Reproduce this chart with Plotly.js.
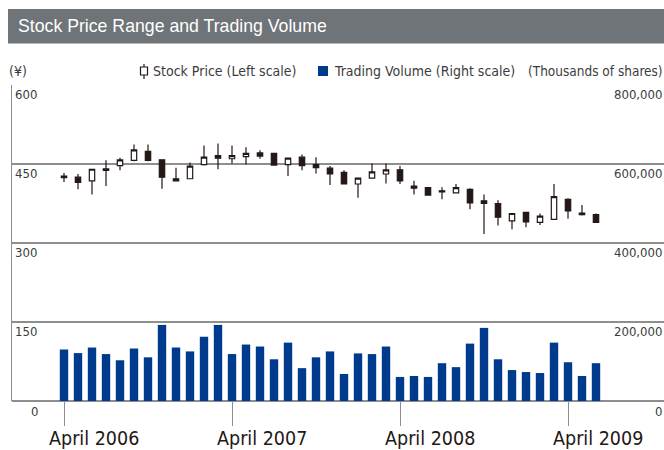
<!DOCTYPE html>
<html>
<head>
<meta charset="utf-8">
<script src="https://cdn.plot.ly/plotly-3.0.1.min.js"></script>
<style>
html,body{margin:0;padding:0;background:#fff;}
#chart{width:664px;height:450px;}
</style>
</head>
<body>
<div id="chart"></div>
<script>
// ---- data ----
const months = ["2006-04","2006-05","2006-06","2006-07","2006-08","2006-09","2006-10","2006-11","2006-12",
  "2007-01","2007-02","2007-03","2007-04","2007-05","2007-06","2007-07","2007-08","2007-09","2007-10","2007-11","2007-12",
  "2008-01","2008-02","2008-03","2008-04","2008-05","2008-06","2008-07","2008-08","2008-09","2008-10","2008-11","2008-12",
  "2009-01","2009-02","2009-03","2009-04","2009-05","2009-06"];
const priceOpen  = [427,425,418,438,447,457,474,458,422,422,449,466,460,464,471,470,449,463,449,442,434,412,423,431,439,408,405,399,395,402,380,375,342,358,339,345,383,357,354];
const priceHigh  = [433,431,440,457,462,487,487,459,443,453,485,489,485,482,476,471,462,468,463,446,438,423,451,451,446,418,405,406,412,404,392,381,356,359,356,412,385,372,356];
const priceLow   = [416,402,392,408,438,455,455,403,418,422,447,440,451,449,460,447,427,438,432,410,412,386,422,413,412,392,391,383,395,364,317,333,326,330,334,344,346,352,339];
const priceClose = [424,415,440,441,458,477,457,425,418,446,463,461,466,470,465,448,461,447,443,431,412,423,435,439,418,404,391,397,405,376,375,349,356,340,351,388,361,354,339];
const volume = [130400,121300,135400,118800,103100,132900,110600,192600,135400,125500,
  162700,192600,118800,142900,137900,105600,147800,83200,110600,125500,
  68300,120500,118800,137900,60900,63400,60900,95700,85700,145300,
  185100,105600,78300,73300,70800,147800,98100,63400,95700];
const xTickVals = ["2006-04","2007-04","2008-04","2009-04"];
const xTickText = ["April 2006","April 2007","April 2008","April 2009"];
const priceTicks = [150,300,450,600];
const priceTickText = ["150","300","450","600"];
const volTicks = [200000,400000,600000,800000];
const volTickText = ["200,000","400,000","600,000","800,000"];

// ---- layout helpers (pixel -> paper) ----
const L = 12, R = 664, T = 85, B = 401;
const px = x => (x - L) / (R - L);
const py = y => (B - y) / (B - T);

const narrow = "'DejaVu Sans Condensed', 'Liberation Sans Narrow', sans-serif";
const gridCol = "#8e8e8e";
const textCol = "#3c3c3c";

const candle = {
  type: "candlestick",
  x: months, open: priceOpen, high: priceHigh, low: priceLow, close: priceClose,
  xaxis: "x", yaxis: "y",
  increasing: {line: {color: "#231815", width: 1.2}, fillcolor: "#ffffff"},
  decreasing: {line: {color: "#231815", width: 1.2}, fillcolor: "#231815"},
  whiskerwidth: 0,
  hoverinfo: "skip", showlegend: false
};
const bars = {
  type: "bar", x: months, y: volume, xaxis: "x", yaxis: "y2",
  marker: {color: "#003a8c"}, width: 0.6,
  hoverinfo: "skip", showlegend: false
};

const annotations = [];
priceTicks.forEach((v, i) => annotations.push({
  xref: "paper", yref: "y", x: px(13), y: v, xanchor: "left", yanchor: "top", yshift: 0,
  text: priceTickText[i], showarrow: false, font: {family: narrow, size: 13, color: textCol}
}));
annotations.push({xref: "paper", yref: "y", x: px(40), y: 0, xanchor: "right", yanchor: "top", yshift: -1,
  text: "0", showarrow: false, font: {family: narrow, size: 13, color: textCol}});
volTicks.forEach((v, i) => annotations.push({
  xref: "paper", yref: "y2", x: px(664), y: v, xanchor: "right", yanchor: "top", yshift: 0,
  text: volTickText[i], showarrow: false, font: {family: narrow, size: 13, color: textCol}
}));
annotations.push({xref: "paper", yref: "y2", x: px(664), y: 0, xanchor: "right", yanchor: "top", yshift: -1,
  text: "0", showarrow: false, font: {family: narrow, size: 13, color: textCol}});
// x tick labels (offset right of the tick, as in the original)
xTickVals.forEach((v, i) => annotations.push({
  xref: "x", yref: "paper", x: v, y: py(438.5), xanchor: "left", yanchor: "middle", xshift: -16,
  borderpad: 0,
  text: xTickText[i], showarrow: false, font: {family: narrow, size: 19.5, color: "#231815"}
}));
// title
annotations.push({xref: "paper", yref: "paper", x: px(16), y: py(26.5), xanchor: "left", yanchor: "middle",
  text: "Stock Price Range and Trading Volume", showarrow: false,
  font: {family: "'Liberation Sans', Arial, sans-serif", size: 17.7, color: "#ffffff"}});
// legend row
const legY = py(71);
annotations.push({xref: "paper", yref: "paper", x: px(7), y: legY, xanchor: "left", yanchor: "middle",
  text: "(¥)", showarrow: false, font: {family: narrow, size: 14, color: textCol}});
annotations.push({xref: "paper", yref: "paper", x: px(151), y: legY, xanchor: "left", yanchor: "middle",
  text: "Stock Price (Left scale)", showarrow: false, font: {family: narrow, size: 14, color: textCol}});
annotations.push({xref: "paper", yref: "paper", x: px(332), y: legY, xanchor: "left", yanchor: "middle",
  text: "Trading Volume (Right scale)", showarrow: false, font: {family: narrow, size: 14, color: textCol}});
annotations.push({xref: "paper", yref: "paper", x: px(663.5), y: legY, xanchor: "right", yanchor: "middle",
  borderpad: 0,
  text: "(Thousands of shares)", showarrow: false, font: {family: narrow, size: 13.5, color: textCol}});

const shapes = [
  {type: "rect", xref: "paper", yref: "paper", x0: px(8), x1: px(664), y0: py(43.5), y1: py(9),
   fillcolor: "#6e7478", line: {width: 0}, layer: "below"},
  // legend candle icon
  {type: "line", xref: "paper", yref: "paper", x0: px(144), x1: px(144), y0: py(64), y1: py(79),
   line: {color: "#231815", width: 1.2}},
  {type: "rect", xref: "paper", yref: "paper", x0: px(140.5), x1: px(147.5), y0: py(67), y1: py(75),
   fillcolor: "#ffffff", line: {color: "#231815", width: 1.2}},
  // legend bar icon
  {type: "rect", xref: "paper", yref: "paper", x0: px(318), x1: px(328), y0: py(66), y1: py(76),
   fillcolor: "#003a8c", line: {width: 0}}
];

const layout = {
  width: 664, height: 450,
  margin: {l: L, r: 664 - R, t: T, b: 450 - B, pad: 0},
  paper_bgcolor: "#ffffff", plot_bgcolor: "#ffffff",
  showlegend: false,
  boxgap: 0.45,
  bargap: 0.4,
  xaxis: {
    type: "category", range: [-3.714, 42.857], fixedrange: true,
    rangeslider: {visible: false},
    tickmode: "array", tickvals: xTickVals, showticklabels: false,
    ticks: "outside", ticklen: 24, tickwidth: 1, tickcolor: "#8e8e8e",
    showgrid: false, zeroline: false, showline: false
  },
  yaxis: {
    range: [0, 600], fixedrange: true,
    tickmode: "array", tickvals: [0, 150, 300, 450, 600], showticklabels: false, ticks: "",
    showgrid: true, gridcolor: gridCol, gridwidth: 1.5,
    zeroline: true, zerolinecolor: gridCol, zerolinewidth: 1.5,
    showline: true, linecolor: gridCol, linewidth: 1.5
  },
  yaxis2: {
    range: [0, 800000], overlaying: "y", side: "right", fixedrange: true,
    showticklabels: false, showgrid: false, zeroline: false, showline: false, ticks: ""
  },
  annotations: annotations,
  shapes: shapes
};

Plotly.newPlot("chart", [bars, candle], layout, {staticPlot: true, displayModeBar: false});
</script>
</body>
</html>
